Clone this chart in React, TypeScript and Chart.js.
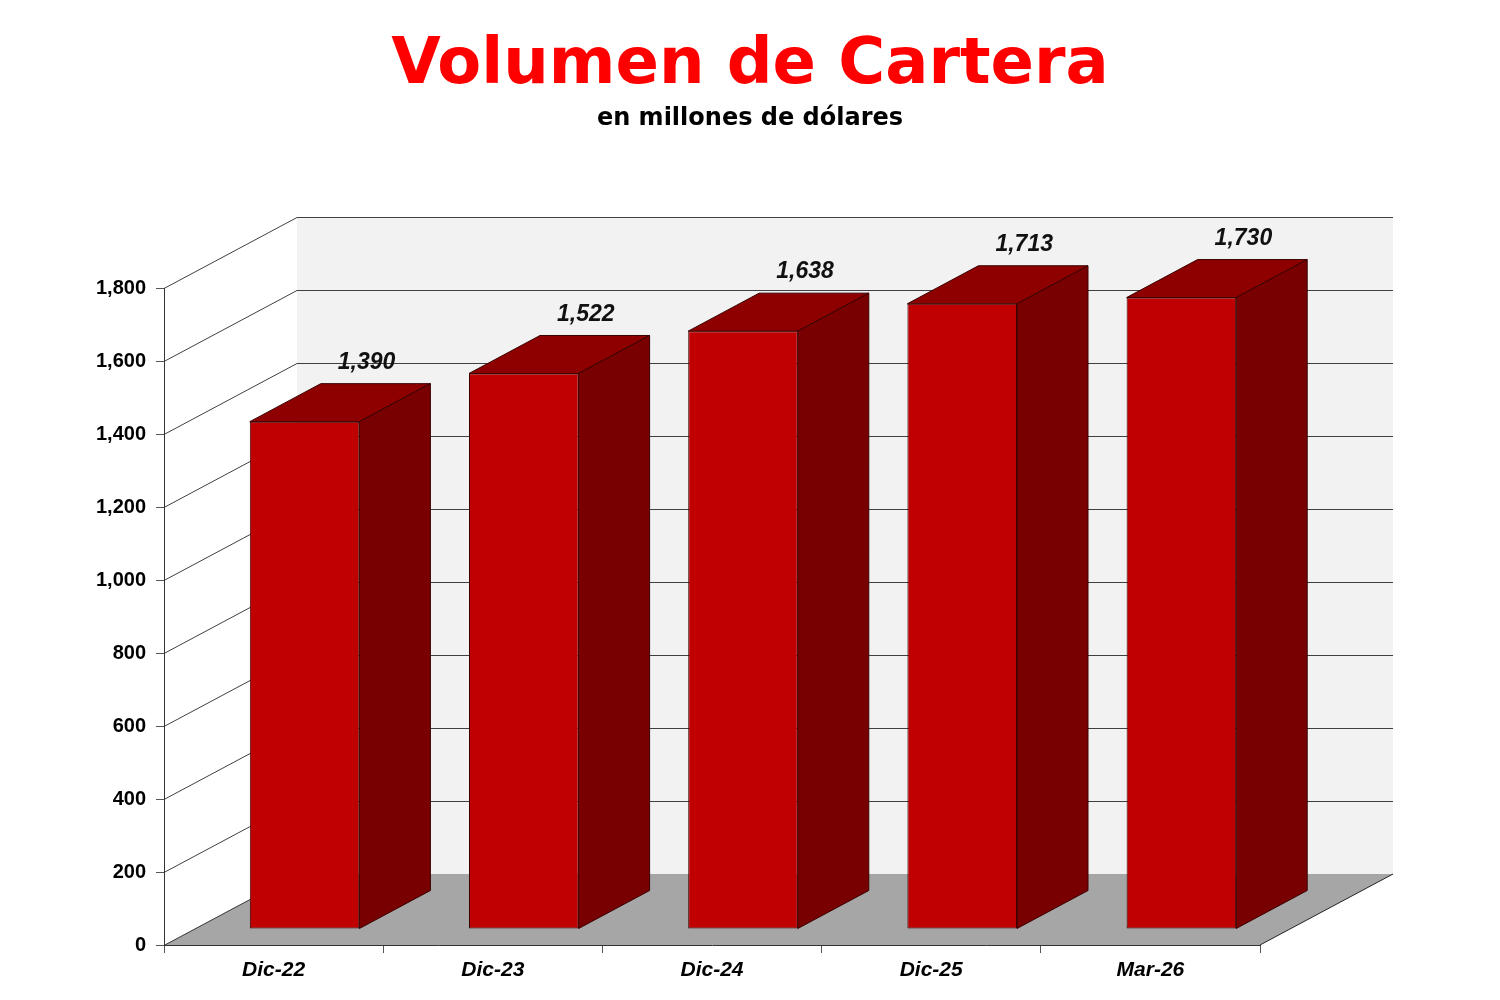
import { useEffect, useRef } from 'react';
import Chart from 'chart.js/auto';

const categories = ['Dic-22', 'Dic-23', 'Dic-24', 'Dic-25', 'Mar-26'];
const cartera = [1390, 1522, 1638, 1713, 1730];
const yMax = 1800;
const yStep = 200;

// depth of the 3d box (floor), and where the bars sit in it
const DX = 133;
const DY = -71;
const FRONT_X = 31;
const FRONT_Y = -16;
const BAR_DX = 71;
const BAR_DY = -38;

const wall3d = {
  id: 'wall3d',
  beforeDraw(chart: any) {
    const { ctx, scales } = chart;
    const x = scales.x;
    const y = scales.y;
    const left = x.left;
    const right = x.right;
    const y0 = y.getPixelForValue(0);
    const yTop = y.getPixelForValue(yMax);
    ctx.save();
    // back wall
    ctx.fillStyle = '#f2f2f2';
    ctx.fillRect(left + DX, yTop + DY, right - left, y0 - yTop);
    // floor
    ctx.fillStyle = '#a6a6a6';
    ctx.beginPath();
    ctx.moveTo(left, y0);
    ctx.lineTo(right, y0);
    ctx.lineTo(right + DX, y0 + DY);
    ctx.lineTo(left + DX, y0 + DY);
    ctx.closePath();
    ctx.fill();
    // side wall + back wall gridlines
    ctx.strokeStyle = '#404040';
    ctx.lineWidth = 1;
    y.ticks.forEach((t: any) => {
      const py = Math.round(y.getPixelForValue(t.value)) + 0.5;
      ctx.beginPath();
      ctx.moveTo(left, py);
      ctx.lineTo(left + DX, py + DY);
      if (t.value !== 0) ctx.lineTo(right + DX, py + DY);
      ctx.stroke();
    });
    ctx.strokeStyle = '#222';
    ctx.beginPath();
    ctx.moveTo(right, y0);
    ctx.lineTo(right + DX, y0 + DY);
    ctx.stroke();
    ctx.restore();
  },
  beforeDatasetsDraw(chart: any) {
    chart.ctx.save();
    chart.ctx.translate(FRONT_X, FRONT_Y);
  },
  afterDatasetsDraw(chart: any) {
    const { ctx } = chart;
    ctx.restore();
    const meta = chart.getDatasetMeta(0);
    const values = chart.data.datasets[0].data as number[];
    ctx.save();
    ctx.lineWidth = 1;
    ctx.strokeStyle = '#3a0000';
    meta.data.forEach((bar: any, i: number) => {
      const p = bar.getProps(['x', 'y', 'base', 'width'], true);
      const l = p.x - p.width / 2 + FRONT_X;
      const r = p.x + p.width / 2 + FRONT_X;
      const t = p.y + FRONT_Y;
      const b = p.base + FRONT_Y;
      // top
      ctx.fillStyle = '#8e0000';
      ctx.beginPath();
      ctx.moveTo(l, t);
      ctx.lineTo(r, t);
      ctx.lineTo(r + BAR_DX, t + BAR_DY);
      ctx.lineTo(l + BAR_DX, t + BAR_DY);
      ctx.closePath();
      ctx.fill();
      ctx.stroke();
      // side
      ctx.fillStyle = '#780000';
      ctx.beginPath();
      ctx.moveTo(r, t);
      ctx.lineTo(r + BAR_DX, t + BAR_DY);
      ctx.lineTo(r + BAR_DX, b + BAR_DY);
      ctx.lineTo(r, b);
      ctx.closePath();
      ctx.fill();
      ctx.stroke();
      // value label
      ctx.fillStyle = '#111';
      ctx.font = 'italic bold 23px "Liberation Sans", Arial, sans-serif';
      ctx.textAlign = 'center';
      ctx.textBaseline = 'middle';
      ctx.fillText(values[i].toLocaleString('en-US'), p.x + FRONT_X + 62, t + BAR_DY - 21);
    });
    ctx.restore();
  },
};

const axisFont = { family: '"Liberation Sans", Arial, sans-serif', size: 20, weight: 'bold' as const };

const App = () => {
  const chartRef = useRef<HTMLCanvasElement | null>(null);
  const chartInstance = useRef<Chart | null>(null);

  useEffect(() => {
    if (!chartRef.current) return;
    if (chartInstance.current) chartInstance.current.destroy();

    chartInstance.current = new Chart(chartRef.current, {
      type: 'bar',
      data: {
        labels: categories,
        datasets: [
          {
            label: 'Volumen de Cartera',
            data: cartera,
            backgroundColor: '#c00000',
            borderColor: '#3a0000',
            borderWidth: 1,
            borderSkipped: false,
            barPercentage: 1,
            categoryPercentage: 0.5,
            clip: false as any,
          },
        ],
      },
      options: {
        animation: false,
        responsive: false,
        locale: 'en-US',
        layout: { padding: 0 },
        plugins: {
          legend: { display: false },
          tooltip: { enabled: false },
          title: {
            display: true,
            text: 'Volumen de Cartera',
            color: '#ff0000',
            font: { family: '"DejaVu Sans", sans-serif', size: 64, weight: 'bold' },
            padding: { top: 28, bottom: 0 },
          },
          subtitle: {
            display: true,
            text: 'en millones de dólares',
            color: '#000',
            font: { family: '"DejaVu Sans", sans-serif', size: 24, weight: 'bold' },
            padding: { top: 0, bottom: 154.4 },
          },
        },
        scales: {
          x: {
            grid: { drawOnChartArea: false, drawTicks: true, tickLength: 8, color: '#555', offset: true },
            border: { display: true, color: '#333', width: 1 },
            ticks: { color: '#000', font: { ...axisFont, size: 21, style: 'italic' }, padding: 5 },
            afterFit: (s: any) => {
              s.height = 55;
            },
          },
          y: {
            min: 0,
            max: yMax,
            ticks: { stepSize: yStep, color: '#000', font: axisFont, padding: 10 },
            grid: { drawOnChartArea: false, drawTicks: true, tickLength: 8, color: '#555' },
            border: { display: true, color: '#333', width: 1 },
            afterFit: (s: any) => {
              s.width = 164;
            },
          },
          // empty axis that keeps room on the right for the 3d depth
          depth: {
            type: 'linear',
            position: 'right',
            display: true,
            ticks: { display: false },
            grid: { display: false, drawTicks: false },
            border: { display: false },
            afterFit: (s: any) => {
              s.width = 240;
            },
          },
        },
      },
      plugins: [wall3d],
    });
    return () => {
      chartInstance.current?.destroy();
    };
  }, []);

  return (
    <div style={{ position: 'absolute', left: 0, top: 0, width: 1500, height: 1000, background: '#fff' }}>
      <canvas ref={chartRef} width={1500} height={1000} />
    </div>
  );
};

export default App;
